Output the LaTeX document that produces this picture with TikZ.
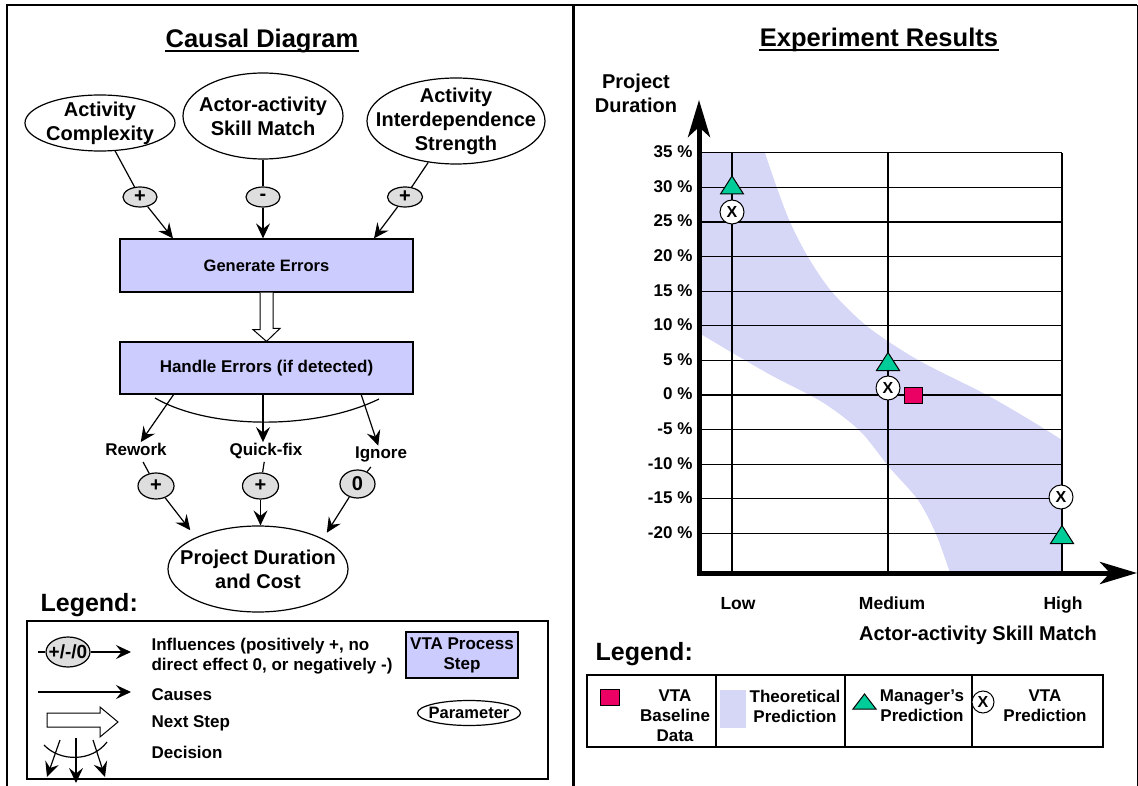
\documentclass[tikz,border=0pt]{standalone}
\usepackage{fontspec}
\setmainfont{Liberation Sans}
\usetikzlibrary{arrows.meta,shapes.geometric}

\definecolor{stepfill}{RGB}{204,204,255}
\definecolor{signfill}{RGB}{222,222,222}
\definecolor{bandfill}{RGB}{214,214,247}
\definecolor{mgrgreen}{RGB}{0,204,153}
\definecolor{basered}{RGB}{235,0,100}

\newcommand{\bfsz}[2]{\fontsize{#1}{#2}\selectfont\bfseries}

\tikzset{
  arr/.style={-{Stealth[length=15pt,width=14pt,inset=5.5pt]}},
  axisarrow/.style={line width=5pt,-{Stealth[length=37pt,width=22pt,inset=10pt]}},
  param/.style={ellipse, draw, fill=white, inner sep=-40pt, align=center, font=\bfsz{20}{24}},
  sign/.style={ellipse, draw, fill=signfill, inner sep=-40pt, font=\bfsz{20}{24}},
  stepbox/.style={rectangle, draw, fill=stepfill, inner sep=0pt, align=center},
  lbl/.style={inner sep=0pt, font=\bfsz{17}{20}},
  ylab/.style={inner sep=0pt, anchor=east, font=\bfsz{17}{20}},
  xmark/.style={circle, draw, fill=white, line width=1pt, minimum size=24pt, inner sep=0pt, font=\bfsz{16}{16}},
  basemark/.style={rectangle, draw, fill=basered, line width=1pt, minimum width=18pt, minimum height=16pt, inner sep=0pt},
  gridline/.style={line width=1.3pt},
  mgrmark/.pic={\draw[fill=mgrgreen,line width=1pt] (0,-9) -- (11.5,9) -- (-11.5,9) -- cycle;},
  hollow/.style={draw, fill=white, line width=1pt, line join=miter},
}

\begin{document}
\begin{tikzpicture}[x=1pt,y=-1pt,line width=1.2pt]
\useasboundingbox (0,0) rectangle (1138,786);

% ---------- frame ----------
\draw[line width=2.5pt] (7,786) -- (7,5) -- (1137,5);
\draw[line width=1pt] (1137,5) -- (1137,786);
\draw[line width=2.5pt] (573.5,5) -- (573.5,786);

% ================= causal diagram =================
\node[inner sep=0pt, anchor=base, font=\bfsz{25.5}{30}] (ctitle) at (262,48) {Causal Diagram};
\draw[line width=1.8pt] ([yshift=-3pt]ctitle.base west) -- ([yshift=-3pt]ctitle.base east);

\node[param, minimum width=150pt, minimum height=56pt] (e1) at (100,123) {Activity\\Complexity};
\node[param, minimum width=160pt, minimum height=86pt] (e2) at (263,116) {Actor-activity\\Skill Match};
\node[param, minimum width=178pt, minimum height=86pt] (e3) at (456,121) {Activity\\Interdependence\\Strength};

\node[sign, minimum width=34pt, minimum height=20pt] (s1) at (140,197) {+};
\node[sign, minimum width=34pt, minimum height=20pt] (s2) at (263,197) {-};
\node[sign, minimum width=35pt, minimum height=20pt] (s3) at (405,197) {+};

\node[stepbox, minimum width=293pt, minimum height=53pt, font=\bfsz{16.5}{20}] (gen) at (266.5,265.5) {Generate Errors};
\node[stepbox, minimum width=293pt, minimum height=52pt, font=\bfsz{17}{20}] (hand) at (266.5,368) {Handle Errors (if detected)};

\draw (e1) -- (s1);
\draw[arr] (s1) -- ([xshift=-93.5pt]gen.north);
\draw (e2) -- (s2);
\draw[arr] (s2) -- ([xshift=-3.5pt]gen.north);
\draw (e3) -- (s3);
\draw[arr] (s3) -- ([xshift=107.5pt]gen.north);

% next step arrow between the two process steps
\draw[hollow] ([xshift=-6.5pt]gen.south) -- ++(0,37) -- ++(-7,0) -- (hand.north)
  -- ++(13.5,-13) -- ++(-7,0) -- ([xshift=6.5pt]gen.south);

% decision
\draw (155,398) .. controls (210,430) and (316,430) .. (379,399);
\node[lbl, anchor=base] (rw) at (136,455) {Rework};
\node[lbl, anchor=base] (qf) at (266,455) {Quick-fix};
\node[lbl, anchor=base] (ig) at (381,458) {Ignore};
\coordinate (h1) at (174,394);
\coordinate (h2) at (263,394);
\coordinate (h3) at (361,394);
\draw[arr] (h1) -- (rw);
\draw[arr] (h2) -- (h2 |- qf.north);
\draw[arr] (h3) -- (ig);

\node[sign, minimum width=36pt, minimum height=26pt] (r1) at (156,486) {+};
\node[sign, minimum width=36pt, minimum height=26pt] (q1) at (260.5,486) {+};
\node[sign, minimum width=35pt, minimum height=28pt] (i1) at (357.5,484) {0};

\node[param, minimum width=180pt, minimum height=86pt] (pd) at (258,569) {Project Duration\\and Cost};

\draw[shorten <=7pt] (rw) -- (r1);
\draw[shorten <=3pt] (qf) -- (q1);
\draw[shorten <=6pt] (ig) -- (i1);
\draw[arr, shorten >=9pt] (r1) -- (pd.153);
\draw[arr] (q1) -- (q1 |- pd.north);
\draw[arr, shorten >=7pt] (i1) -- (pd.25);

% legend
\node[inner sep=0pt, anchor=base west, font=\bfsz{25}{28}] (cleg) at (40,611) {Legend:};
\draw (27,621) rectangle (548,779);

\coordinate (lgA) at (38,652);
\coordinate (lgB) at (131,652);
\node[sign, minimum width=44pt, minimum height=30pt, font=\bfsz{19}{22}] (lgs) at (68,652) {+/-/0};
\draw (lgA) -- (lgs);
\draw[arr] (lgs) -- (lgB);
\node[lbl, anchor=west, align=left] (lgt1) at (151,656) {Influences (positively +, no\\direct effect 0, or negatively -)};

\node[stepbox, minimum width=112pt, minimum height=46pt, font=\bfsz{17}{20}] (lgstep) at (462,655) {VTA Process\\Step};

\coordinate (lcA) at (38,692);
\coordinate (lcB) at (131,692);
\draw[arr] (lcA) -- (lcB);
\node[lbl, anchor=base west] (lgt2) at (151,700) {Causes};

\draw[hollow] (47,713) -- (100,713) -- (100,707) -- (118,722) -- (100,737) -- (100,727) -- (47,727) -- cycle;
\node[lbl, anchor=base west] (lgt3) at (151,727) {Next Step};

\node[param, minimum width=103pt, minimum height=25pt, font=\bfsz{16.5}{20}] (lgpar) at (469,713) {Parameter};

\draw (44,745) .. controls (60,762) and (92,762) .. (107,742);
\coordinate (ld1) at (60,740);  \coordinate (ld1e) at (47,777);
\coordinate (ld2) at (76,738);  \coordinate (ld2e) at (76,783);
\coordinate (ld3) at (93,740);  \coordinate (ld3e) at (105,777);
\draw[arr] (ld1) -- (ld1e);
\draw[arr] (ld2) -- (ld2e);
\draw[arr] (ld3) -- (ld3e);
\node[lbl, anchor=base west] (lgt4) at (151,758) {Decision};

% ================= experiment results =================
\node[inner sep=0pt, anchor=base, font=\bfsz{25.5}{30}] (rtitle) at (879,47) {Experiment Results};
\draw[line width=1.8pt] ([yshift=-3pt]rtitle.base west) -- ([yshift=-3pt]rtitle.base east);

\node[inner sep=0pt, align=center, font=\bfsz{20}{24}] (ylabel) at (636,93) {Project\\Duration};

% theoretical prediction band
\fill[bandfill] (699,153) -- plot[smooth] coordinates {(765,153) (777,188) (790,222) (808,257) (832,292) (868,327) (918,360) (985,394) (1030,420) (1062,440)}
  -- (1062,573) -- plot[smooth] coordinates {(950,573) (936,534) (918,500) (889,467) (860,431) (822,402) (767,373) (699,333)} -- cycle;

% grid
\foreach \v/\t in {35/35 \%,30/30 \%,25/25 \%,20/20 \%,15/15 \%,10/10 \%,5/5 \%,0/0 \%,-5/-5 \%,-10/-10 \%,-15/-15 \%,-20/-20 \%}{
  \draw[gridline] (699,395-6.92*\v) -- (1062,395-6.92*\v);
  \node[ylab] at (693,394-6.92*\v) {\t};
}
\draw[gridline] (732,153) -- (732,573);
\draw[gridline] (888,153) -- (888,573);
\draw[gridline] (1062,153) -- (1062,573);

% axes
\coordinate (O) at (699,573);
\coordinate (ytip) at (699,100);
\coordinate (xtip) at (1137,573);
\draw[axisarrow] ([yshift=-2.5pt]O) -- (ytip);
\draw[axisarrow] ([xshift=-2.5pt]O) -- (xtip);

\node[lbl, anchor=base, font=\bfsz{17.5}{20}] (xl1) at (738,609) {Low};
\node[lbl, anchor=base, font=\bfsz{17.5}{20}] (xl2) at (892,609) {Medium};
\node[lbl, anchor=base, font=\bfsz{17.5}{20}] (xl3) at (1063,609) {High};
\node[inner sep=0pt, anchor=base, font=\bfsz{20}{24}] (xlabel) at (978,640) {Actor-activity Skill Match};

% data points
\pic at (732,185) {mgrmark};
\pic at (888,361.5) {mgrmark};
\pic at (1062,534.5) {mgrmark};
\node[xmark] (v1) at (732,212) {X};
\node[xmark] (v2) at (888,388) {X};
\node[xmark] (v3) at (1061,497) {X};
\node[basemark] (b1) at (913,395) {};

% legend
\node[inner sep=0pt, anchor=base west, font=\bfsz{25}{28}] (rleg) at (595,660) {Legend:};
\draw (587,675) rectangle (1103,747);
\draw (716,675) -- (716,747);
\draw (845,675) -- (845,747);
\draw (972,675) -- (972,747);

\node[basemark, minimum width=19pt] (lb) at (609.5,697) {};
\node[inner sep=0pt, align=center, font=\bfsz{17}{20}] (lbt) at (675,716) {VTA\\Baseline\\Data};

\fill[bandfill] (720,690) rectangle (746,728);
\node[inner sep=0pt, align=center, font=\bfsz{17}{20}] (ltt) at (795,706) {Theoretical\\Prediction};

\draw[fill=mgrgreen,line width=1pt] (864.5,694) -- (876,709) -- (853,709) -- cycle;
\node[inner sep=0pt, align=center, font=\bfsz{17}{20}] (lmt) at (922,706) {Manager’s\\Prediction};

\node[xmark, minimum size=22pt] (lv) at (983,702) {X};
\node[inner sep=0pt, align=center, font=\bfsz{17}{20}] (lvt) at (1045,706) {VTA\\Prediction};

\end{tikzpicture}
\end{document}
